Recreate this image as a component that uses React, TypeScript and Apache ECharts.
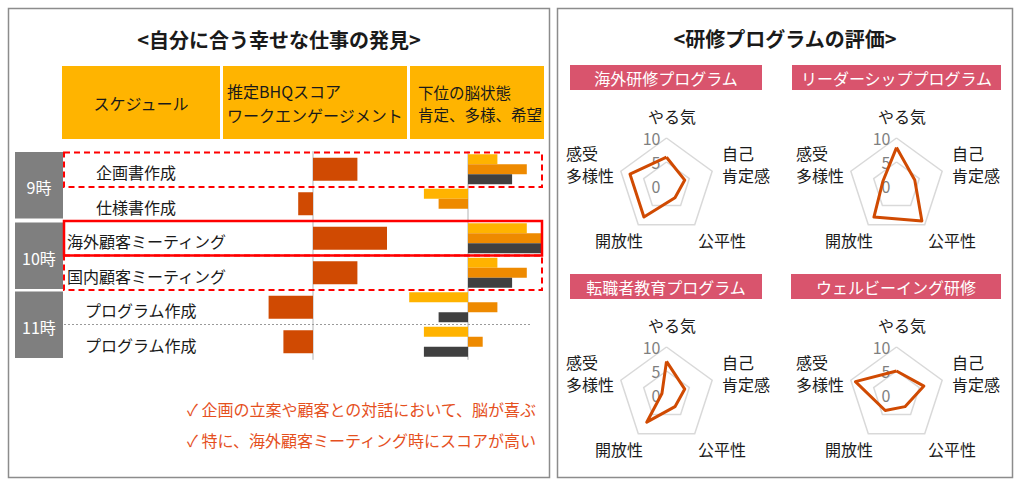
import React, { useEffect, useRef } from 'react';
import * as echarts from 'echarts';

// ---------------- data ----------------
const scheduleItems = ['企画書作成', '仕様書作成', '海外顧客ミーティング', '国内顧客ミーティング', 'プログラム作成', 'プログラム作成'];
const timeSlots = ['9時', '10時', '11時'];
const headerSchedule = 'スケジュール';
const headerBhq = ['推定BHQスコア', 'ワークエンゲージメント'];
const headerBrain = ['下位の脳状態', '肯定、多様、希望'];
const bhqScores = [3, -1, 5, 3, -3, -2];
const affirmScores = [2, -3, 4, 2, -4, -3];
const diversityScores = [4, -2, 5, 4, 2, 1];
const hopeScores = [3, 0, 5, 3, -2, -3];
const notes = ['✓ 企画の立案や顧客との対話において、脳が喜ぶ', '✓ 特に、海外顧客ミーティング時にスコアが高い'];

const leftTitle = '<自分に合う幸せな仕事の発見>';
const rightTitle = '<研修プログラムの評価>';
const programNames = ['海外研修プログラム', 'リーダーシッププログラム', '転職者教育プログラム', 'ウェルビーイング研修'];
// indicator order: top, then counter-clockwise (lines of each name)
const radarIndicators = [['やる気'], ['感受', '多様性'], ['開放性'], ['公平性'], ['自己', '肯定感']];
const radarMax = 10;
const overseasTraining = [6, 8, 8, 3, 4];
const leadershipProgram = [8, 3, 8, 9, 4];
const careerChangeProgram = [7, 1, 7, 3, 4];
const wellbeingTraining = [5, 9, 4, 3, 6];
const programValues = [overseasTraining, leadershipProgram, careerChangeProgram, wellbeingTraining];

// ---------------- styles / layout ----------------
const FONT = '"Noto Sans CJK JP", "Noto Sans", sans-serif';
const INK = '#1a1a1a';
const GOLD = '#FFB400';
const BHQ_COLOR = '#D04A02';
const AFFIRM_COLOR = '#FFB300';
const DIVERSITY_COLOR = '#EE8A00';
const HOPE_COLOR = '#404040';
const PINK = '#D9546D';
const RED = '#FF0000';

const ROW_TOP = 152;
const ROW_H = 34.5;
const rowCenter = (i: number) => ROW_TOP + ROW_H * (i + 0.5);
const rowLabelX = [96, 96, 67, 67, 85, 85];

const RADAR_R = 48;
const radarCenters: [number, number][] = [
  [666.5, 186],
  [896.5, 186],
  [666.5, 395],
  [896.5, 395],
];
// placement of the indicator names around each radar (offsets from its centre)
const namePlacement = [
  { dx: 5.5, dy: -70, align: 'center' },
  { dx: -100.5, dy: -22, align: 'left' },
  { dx: -23.5, dy: 54, align: 'right' },
  { dx: 31.5, dy: 54, align: 'left' },
  { dx: 55.5, dy: -22, align: 'left' },
];
const NAME_LINE_H = 22;
const pinkBoxes = [
  { x: 570, y: 65, w: 192 },
  { x: 792, y: 65, w: 209 },
  { x: 570, y: 274, w: 192 },
  { x: 791, y: 274, w: 210 },
];

function txt(text: string, x: number, y: number, o: any = {}) {
  const align = o.align || 'left';
  const fill = o.fill || INK;
  return {
    type: 'text',
    z: 30,
    silent: true,
    style: {
      text,
      x,
      y,
      fill,
      fontSize: o.fontSize || 16,
      fontWeight: o.fontWeight || 'normal',
      fontFamily: FONT,
      align,
      textAlign: align,
      verticalAlign: 'middle',
      textVerticalAlign: 'middle',
    },
  };
}

function rect(x: number, y: number, w: number, h: number, style: any, z = 1) {
  return { type: 'rect', z, silent: true, shape: { x, y, width: w, height: h }, style };
}

function buildOption(): any {
  const graphics: any[] = [];
  // panels
  graphics.push(rect(8.5, 8.5, 541, 469, { fill: '#fff', stroke: '#8c8c8c', lineWidth: 1.5 }, 0));
  graphics.push(rect(557.5, 8.5, 455, 469, { fill: '#fff', stroke: '#8c8c8c', lineWidth: 1.5 }, 0));
  // titles
  graphics.push(txt(leftTitle, 279, 39, { align: 'center', fontSize: 20, fontWeight: 'bold' }));
  graphics.push(txt(rightTitle, 785, 38, { align: 'center', fontSize: 20, fontWeight: 'bold' }));
  // header boxes
  graphics.push(rect(62, 66, 158, 73, { fill: GOLD }));
  graphics.push(rect(223, 66, 184, 73, { fill: GOLD }));
  graphics.push(rect(410, 66, 134, 73, { fill: GOLD }));
  graphics.push(txt(headerSchedule, 141, 103, { align: 'center' }));
  graphics.push(txt(headerBhq[0], 227, 91));
  graphics.push(txt(headerBhq[1], 227, 115));
  graphics.push(txt(headerBrain[0], 418, 92, { fontSize: 15.5 }));
  graphics.push(txt(headerBrain[1], 418, 114, { fontSize: 15.5 }));
  // time blocks
  timeSlots.forEach((t, k) => {
    const y0 = ROW_TOP + k * 2 * ROW_H + (k > 0 ? 1.5 : 0);
    const h = 2 * ROW_H - 2.5;
    graphics.push(rect(15, y0, 48, h, { fill: '#7f7f7f' }));
    graphics.push(txt(t, 39, y0 + h / 2 + 2, { align: 'center', fill: '#fff' }));
  });
  // row labels
  scheduleItems.forEach((s, i) => {
    graphics.push(txt(s, rowLabelX[i], rowCenter(i) + 3));
  });
  // highlight frames
  const dashStyle = { fill: 'none', stroke: RED, lineWidth: 2, lineDash: [6, 4] };
  graphics.push(rect(64, ROW_TOP + 0.5, 478, ROW_H, dashStyle, 25));
  graphics.push(rect(64, ROW_TOP + 3 * ROW_H, 478, ROW_H, dashStyle, 25));
  graphics.push(rect(64, ROW_TOP + 2 * ROW_H, 478, ROW_H, { fill: 'none', stroke: RED, lineWidth: 2.5 }, 26));
  // dotted separator
  graphics.push({
    type: 'line',
    z: 5,
    silent: true,
    shape: { x1: 64, y1: ROW_TOP + 5 * ROW_H, x2: 532, y2: ROW_TOP + 5 * ROW_H },
    style: { stroke: '#9a9a9a', lineWidth: 1, lineDash: [2, 2] },
  });
  // notes
  graphics.push(txt(notes[0], 536, 409, { align: 'right', fill: '#E5501E', fontSize: 16 }));
  graphics.push(txt(notes[1], 536, 440, { align: 'right', fill: '#E5501E', fontSize: 16 }));
  // program labels
  programNames.forEach((p, i) => {
    const b = pinkBoxes[i];
    graphics.push(rect(b.x, b.y, b.w, 25, { fill: PINK }));
    graphics.push(txt(p, b.x + b.w / 2, b.y + 12.5, { align: 'center', fill: '#fff' }));
  });
  // radar indicator names
  radarCenters.forEach((c) => {
    radarIndicators.forEach((lines, j) => {
      const pl = namePlacement[j];
      const y0 = c[1] + pl.dy - ((lines.length - 1) * NAME_LINE_H) / 2;
      lines.forEach((line, k) => {
        graphics.push(txt(line, c[0] + pl.dx, y0 + k * NAME_LINE_H, { align: pl.align }));
      });
    });
  });

  const catAxis = (gridIndex: number) => ({
    gridIndex,
    type: 'category',
    data: scheduleItems,
    inverse: true,
    axisLine: { show: true, onZero: true, lineStyle: { color: '#d9d9d9', width: 2 } },
    axisTick: { show: false },
    axisLabel: { show: false },
    splitLine: { show: false },
  });
  const valAxis = (gridIndex: number) => ({
    gridIndex,
    type: 'value',
    min: -5,
    max: 5,
    axisLine: { show: false },
    axisTick: { show: false },
    axisLabel: { show: false },
    splitLine: { show: false },
  });

  const radars = radarCenters.map((c) => ({
    center: c,
    radius: RADAR_R,
    startAngle: 90,
    splitNumber: 2,
    shape: 'polygon',
    indicator: radarIndicators.map((lines, j) => {
      const ind: any = { name: lines.join(''), min: 0, max: radarMax };
      if (j === 0) ind.axisLabel = { show: true };
      return ind;
    }),
    axisName: { show: false },
    axisLine: { show: false },
    axisTick: { show: false },
    axisLabel: { show: false, color: '#7f7f7f', fontSize: 16, fontFamily: FONT, margin: 6 },
    splitLine: { lineStyle: { color: '#d9d9d9', width: 1.5 } },
    splitArea: { show: false },
  }));

  const radarSeries = programValues.map((vals, i) => ({
    type: 'radar',
    radarIndex: i,
    symbol: 'none',
    silent: true,
    lineStyle: { color: BHQ_COLOR, width: 3 },
    data: [{ value: vals, name: programNames[i] }],
  }));

  return {
    animation: false,
    backgroundColor: '#fff',
    textStyle: { fontFamily: FONT },
    graphic: { elements: graphics },
    grid: [
      { left: 239, top: ROW_TOP, width: 148, height: ROW_H * 6 },
      { left: 394.5, top: ROW_TOP, width: 147, height: ROW_H * 6 },
    ],
    xAxis: [valAxis(0), valAxis(1)],
    yAxis: [catAxis(0), catAxis(1)],
    radar: radars,
    series: [
      { type: 'bar', name: 'BHQ', xAxisIndex: 0, yAxisIndex: 0, data: bhqScores, barWidth: 23, silent: true, itemStyle: { color: BHQ_COLOR }, z: 3 },
      { type: 'bar', name: '肯定', xAxisIndex: 1, yAxisIndex: 1, data: affirmScores, barWidth: 10, barGap: '0%', silent: true, itemStyle: { color: AFFIRM_COLOR }, z: 3 },
      { type: 'bar', name: '多様', xAxisIndex: 1, yAxisIndex: 1, data: diversityScores, barWidth: 10, barGap: '0%', silent: true, itemStyle: { color: DIVERSITY_COLOR }, z: 3 },
      { type: 'bar', name: '希望', xAxisIndex: 1, yAxisIndex: 1, data: hopeScores, barWidth: 10, barGap: '0%', silent: true, itemStyle: { color: HOPE_COLOR }, z: 3 },
      ...radarSeries,
    ],
  };
}

export default function App() {
  const ref = useRef<HTMLDivElement>(null);
  useEffect(() => {
    document.body.style.margin = '0';
    const chart = echarts.init(ref.current as HTMLDivElement, null, { renderer: 'svg' });
    chart.setOption(buildOption());
    return () => chart.dispose();
  }, []);
  return <div ref={ref} style={{ width: 1024, height: 486 }} />;
}
